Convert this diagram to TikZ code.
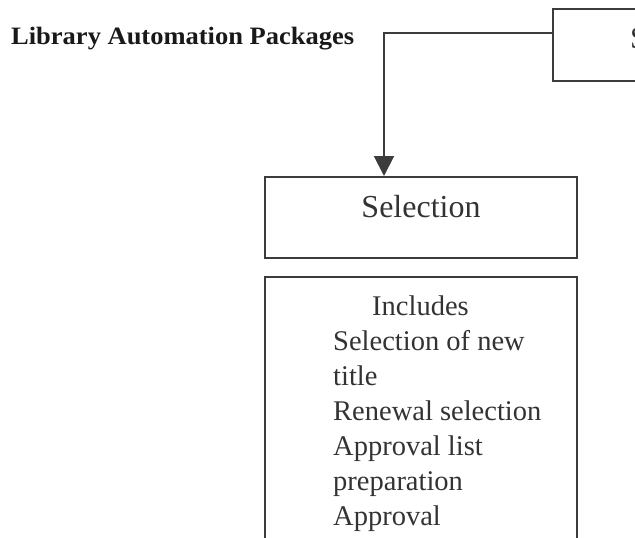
\documentclass[tikz,border=0pt]{standalone}
\usepackage{fontspec}
\setmainfont{Liberation Serif}
\usepackage{tikz}
\usepackage{xcolor}
\usetikzlibrary{arrows.meta}
\definecolor{linegray}{HTML}{3C3C3A}
\definecolor{textgray}{HTML}{333333}

\begin{document}
\begin{tikzpicture}[x=1pt,y=-1pt,
    stagebox/.style={draw=linegray,line width=2pt,rectangle,inner sep=0pt},
    itemtext/.style={text=textgray,font=\fontsize{28.5}{35}\selectfont,inner sep=0pt,anchor=base west},
    link/.style={draw=linegray,line width=2pt,-{Triangle[length=20pt,width=20pt]}}]
    \useasboundingbox (0,0) rectangle (635,538);
    % title on the left
    \node[anchor=base west,inner sep=0pt,text=black!90,font=\fontsize{25}{30}\selectfont\bfseries] (title) at (11,44) {\scalebox{1.06}[1]{Library Automation Packages}};
    % boxes
    \node[stagebox,minimum width=247pt,minimum height=72pt] (top) at (676.5,45) {};
    \node[anchor=base west,inner sep=0pt,text=textgray,font=\fontsize{31}{36}\selectfont] (toptext) at (630,48) {S};
    \node[stagebox,minimum width=312pt,minimum height=81pt] (sel) at (421,217.5) {};
    \node[anchor=base,inner sep=0pt,text=textgray,font=\fontsize{32}{38}\selectfont] (seltext) at (421,217) {Selection};
    \node[stagebox,minimum width=312pt,minimum height=300pt] (inc) at (421,427) {};
    \node[itemtext] (head) at (372,315) {Includes};
    \foreach \item [count=\i] in {Selection of new,title,Renewal selection,Approval list,preparation,Approval}
        \node[itemtext] (item\i) at (333,315+35*\i) {\item};
    % connector
    \coordinate (bend) at (384,33);
    \draw[link] (top.west |- bend) -- (bend) -- (bend |- sel.north);
\end{tikzpicture}
\end{document}
